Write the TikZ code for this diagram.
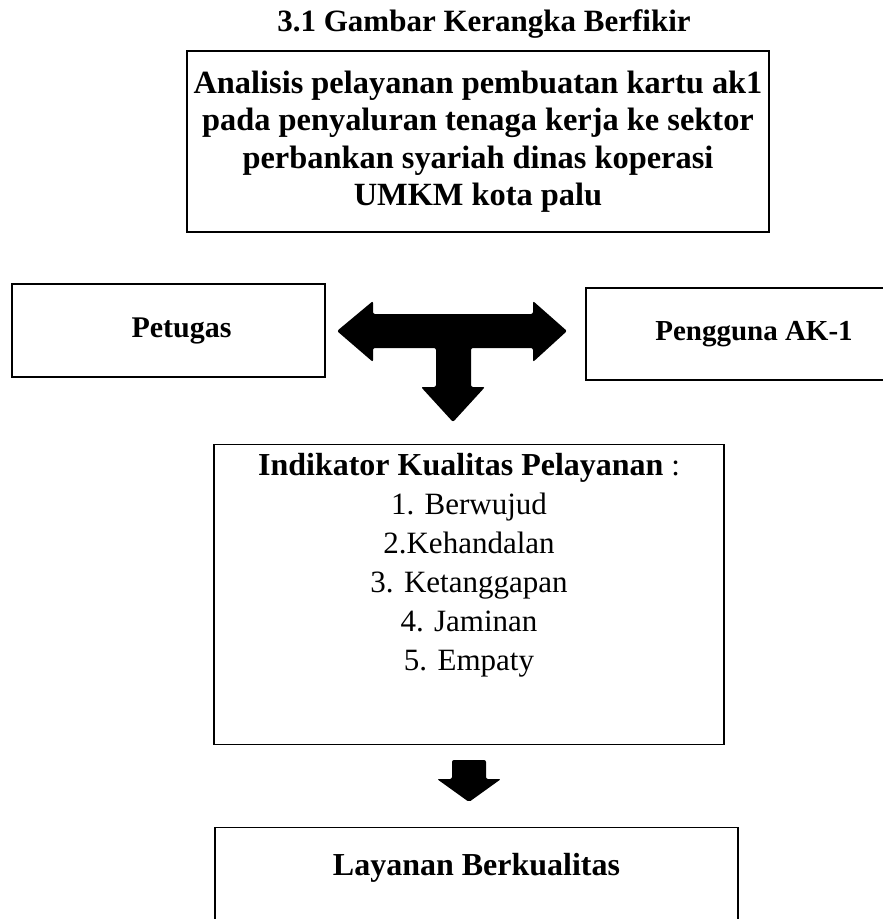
\documentclass[tikz,border=0pt]{standalone}
\usepackage{fontspec}
\setmainfont{Liberation Serif}
\usetikzlibrary{positioning}

\begin{document}
\begin{tikzpicture}[x=1pt,y=-1pt, every node/.style={align=center},
  box/.style={draw,line width=1.3pt,inner sep=0pt},
  tebal/.style={font=\fontsize{30}{38}\selectfont\bfseries},
  besar/.style={font=\fontsize{32.4}{37.5}\selectfont\bfseries},
  biasa/.style={font=\fontsize{31}{39}\selectfont},
  panah/.style={fill=black,rounded corners=2pt}]
\useasboundingbox (0,0) rectangle (883,919);
\node[font=\fontsize{31}{34}\selectfont\bfseries] (judul) at (484,24) {3.1 Gambar Kerangka Berfikir};
\node[box,besar,minimum width=582pt,minimum height=181pt] (analisis) at (478,141.5)
  {Analisis pelayanan pembuatan kartu ak1\\pada penyaluran tenaga kerja ke sektor\\perbankan syariah dinas koperasi\\UMKM kota palu};
\node[box,tebal,minimum width=313pt,minimum height=93pt] (petugas) at (168.5,330.5) {\hspace*{26pt}Petugas};
\node[box,font=\fontsize{29}{36}\selectfont\bfseries,minimum width=336pt,minimum height=92pt] (pengguna) at (754,334) {Pengguna AK-1};
\node[box,minimum width=510pt,minimum height=300pt,anchor=north] (indikator) at (469,444) {};
\node[biasa,anchor=north] (daftar) at ([yshift=-6pt]indikator.north)
  {{\fontsize{32}{39}\selectfont\textbf{Indikator Kualitas Pelayanan}} :\\1. Berwujud\\2.Kehandalan\\3. Ketanggapan\\4. Jaminan\\5. Empaty};
\node[box,minimum width=523pt,minimum height=92pt,anchor=north] (layanan) at (476.5,827) {};
\node[font=\fontsize{32}{38}\selectfont\bfseries] (hasil) at ([yshift=-41pt]layanan.north) {Layanan Berkualitas};
% panah T: petugas <-> pengguna, turun ke indikator
\fill[panah] (337,331) -- (373,301) -- (373,314) -- (533,314) -- (533,301) -- (567,331)
  -- (533,362) -- (533,348) -- (471,348) -- (471,387) -- (485,387) -- (453,422)
  -- (421,387) -- (436,387) -- (436,348) -- (373,348) -- (373,362) -- cycle;
% panah turun ke layanan
\fill[panah] (452,760) -- (486,760) -- (486,779) -- (501,779) -- (469,802)
  -- (437,779) -- (452,779) -- cycle;
\end{tikzpicture}
\end{document}
